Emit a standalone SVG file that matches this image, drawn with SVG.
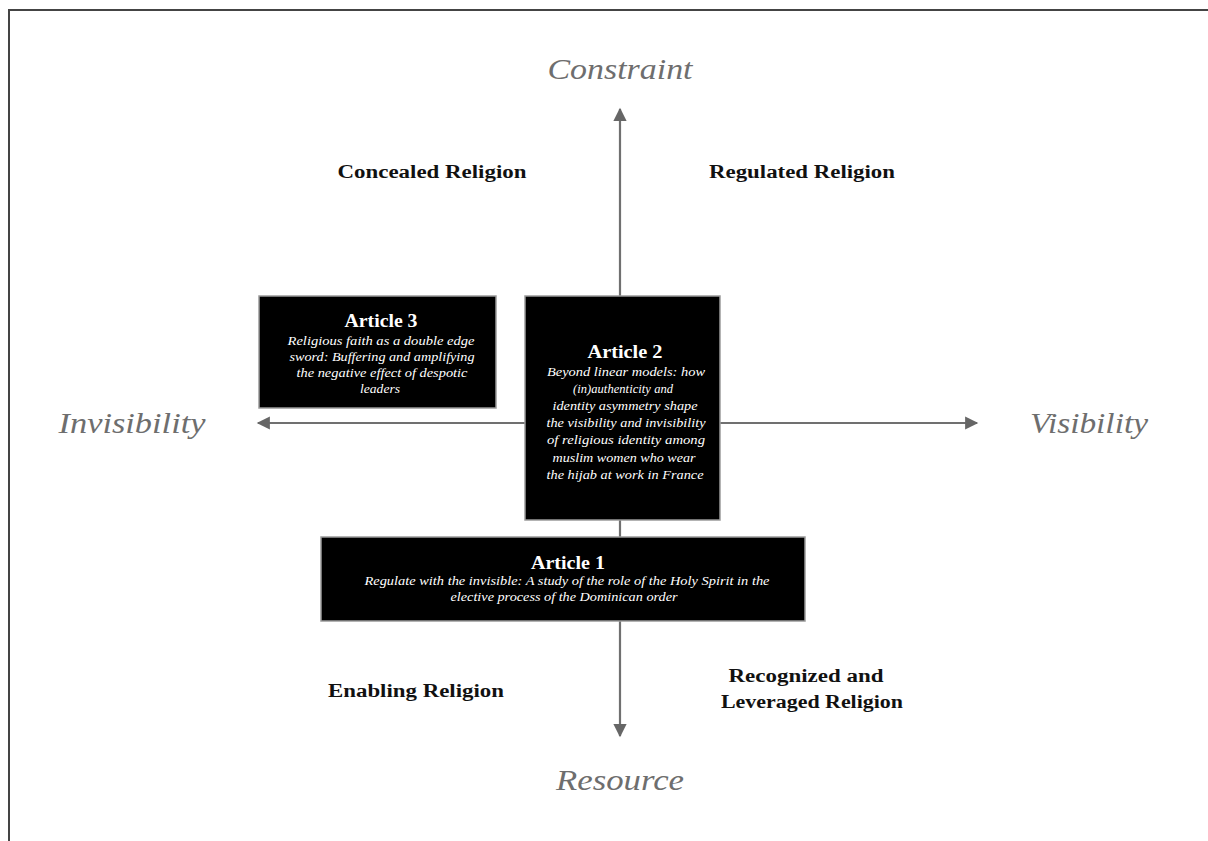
<svg xmlns="http://www.w3.org/2000/svg" width="1208" height="841" viewBox="0 0 1208 841">
<style>
.axis{font-family:"Liberation Serif","DejaVu Serif",serif;font-style:italic;font-size:30px;fill:#6e6e6e;text-anchor:middle}
.quad{font-family:"Liberation Serif","DejaVu Serif",serif;font-weight:bold;font-size:18px;fill:#111;text-anchor:middle}
.box{fill:#000;stroke:#9a9a9a;stroke-width:1.5}
.title{font-family:"Liberation Serif","DejaVu Serif",serif;font-weight:bold;font-size:18px;fill:#fff;text-anchor:middle}
.sub{font-family:"Liberation Serif","DejaVu Serif",serif;font-style:italic;font-size:12px;fill:#fff;text-anchor:middle}
.ax{stroke:#707070;stroke-width:2.2;fill:none}
</style>
<defs>
<marker id="arr" viewBox="0 0 10 10" refX="9" refY="5" markerWidth="7" markerHeight="6" markerUnits="strokeWidth" orient="auto">
<path d="M0,0 L10,5 L0,10 Z" fill="#666"/>
</marker>
</defs>
<rect width="1208" height="841" fill="#fff"/>
<path d="M9,841 V10 H1208" fill="none" stroke="#444" stroke-width="2"/>
<g id="connectors">
<line class="ax" x1="620" y1="423" x2="620" y2="109" marker-end="url(#arr)"/>
<line class="ax" x1="620" y1="423" x2="620" y2="736" marker-end="url(#arr)"/>
<line class="ax" x1="620" y1="423" x2="258" y2="423" marker-end="url(#arr)"/>
<line class="ax" x1="620" y1="423" x2="977" y2="423" marker-end="url(#arr)"/>
</g>
<g id="axis-labels">
<text class="axis" x="620" y="79" textLength="145" lengthAdjust="spacingAndGlyphs">Constraint</text>
<text class="axis" x="620" y="790" textLength="128" lengthAdjust="spacingAndGlyphs">Resource</text>
<text class="axis" x="132" y="433" textLength="147" lengthAdjust="spacingAndGlyphs">Invisibility</text>
<text class="axis" x="1089" y="433" textLength="118" lengthAdjust="spacingAndGlyphs">Visibility</text>
</g>
<g id="quadrant-labels">
<text class="quad" x="432" y="178" textLength="189" lengthAdjust="spacingAndGlyphs">Concealed Religion</text>
<text class="quad" x="802" y="178" textLength="186" lengthAdjust="spacingAndGlyphs">Regulated Religion</text>
<text class="quad" x="416" y="697" textLength="176" lengthAdjust="spacingAndGlyphs">Enabling Religion</text>
<text class="quad" x="806" y="682" textLength="155" lengthAdjust="spacingAndGlyphs">Recognized and</text>
<text class="quad" x="812" y="708" textLength="182" lengthAdjust="spacingAndGlyphs">Leveraged Religion</text>
</g>
<g id="article3">
<rect class="box" x="259" y="296" width="237" height="112"/>
<text class="title" x="381" y="327" textLength="73" lengthAdjust="spacingAndGlyphs">Article 3</text>
<text class="sub" x="381" y="345" textLength="187" lengthAdjust="spacingAndGlyphs">Religious faith as a double edge</text>
<text class="sub" x="382" y="361" textLength="185" lengthAdjust="spacingAndGlyphs">sword: Buffering and amplifying</text>
<text class="sub" x="382" y="377" textLength="171" lengthAdjust="spacingAndGlyphs">the negative effect of despotic</text>
<text class="sub" x="380" y="393" textLength="40" lengthAdjust="spacingAndGlyphs">leaders</text>
</g>
<g id="article2">
<rect class="box" x="525" y="296" width="195" height="224"/>
<text class="title" x="625" y="358" textLength="75" lengthAdjust="spacingAndGlyphs">Article 2</text>
<text class="sub" x="626" y="376" textLength="158" lengthAdjust="spacingAndGlyphs">Beyond linear models: how</text>
<text class="sub" x="623" y="393" style="font-size:12.5px" textLength="100" lengthAdjust="spacing">(in)authenticity and</text>
<text class="sub" x="625" y="410" textLength="145" lengthAdjust="spacingAndGlyphs">identity asymmetry shape</text>
<text class="sub" x="626" y="427" textLength="159" lengthAdjust="spacingAndGlyphs">the visibility and invisibility</text>
<text class="sub" x="626" y="444" textLength="158" lengthAdjust="spacingAndGlyphs">of religious identity among</text>
<text class="sub" x="624" y="462" textLength="143" lengthAdjust="spacingAndGlyphs">muslim women who wear</text>
<text class="sub" x="625" y="479" textLength="157" lengthAdjust="spacingAndGlyphs">the hijab at work in France</text>
</g>
<g id="article1">
<rect class="box" x="321" y="537" width="484" height="84"/>
<text class="title" x="568" y="569" textLength="74" lengthAdjust="spacingAndGlyphs">Article 1</text>
<text class="sub" x="567" y="585" textLength="405" lengthAdjust="spacingAndGlyphs">Regulate with the invisible: A study of the role of the Holy Spirit in the</text>
<text class="sub" x="564" y="601" textLength="227" lengthAdjust="spacingAndGlyphs">elective process of the Dominican order</text>
</g>
</svg>
